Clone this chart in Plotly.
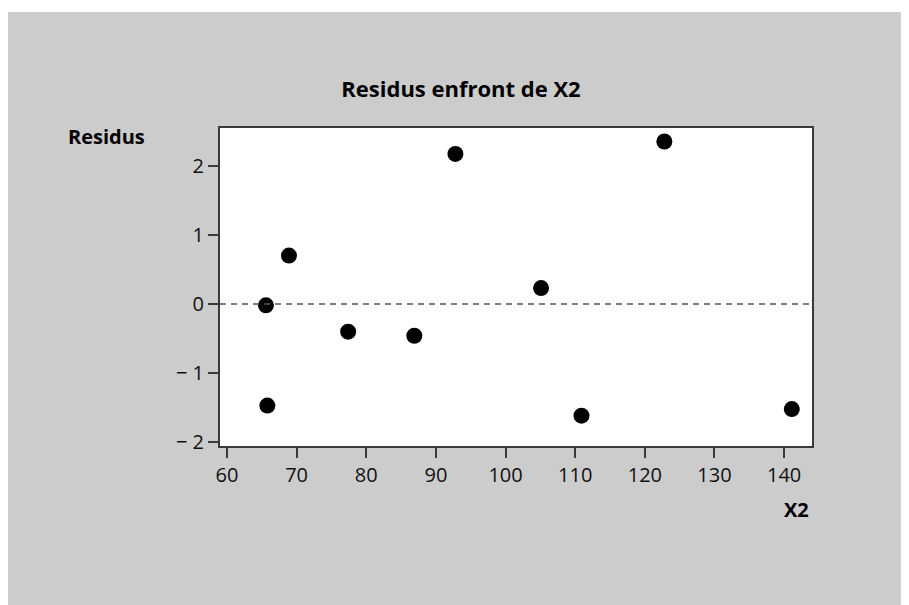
import plotly.graph_objects as go

x2 = [65.6, 65.8, 68.9, 77.4, 86.9, 92.8, 105.1, 110.9, 122.8, 141.1]
residus = [-0.02, -1.47, 0.70, -0.40, -0.46, 2.17, 0.23, -1.615, 2.35, -1.52]

x_ticks = [60, 70, 80, 90, 100, 110, 120, 130, 140]
y_ticks = [-2, -1, 0, 1, 2]
y_tick_text = ["\u2212 2", "\u2212 1", "0", "1", "2"]

FONT = "Open Sans"
AX = "#3a3a3a"
TXT = "#111111"
W, H = 901, 597
# page body has an 8px margin, so figure coords = screen coords - 8
L, R, T, B = 212, 97, 120, 159
pw = W - L - R
ph = H - T - B

fig = go.Figure()
fig.add_trace(go.Scatter(
    x=x2, y=residus, mode="markers",
    marker=dict(color="black", size=16, line=dict(width=0)),
    showlegend=False, hoverinfo="skip"))

fig.add_hline(y=0, line=dict(color="#555555", width=1.5, dash="6px,5px"))

# thin white strip at the very top
fig.add_shape(type="rect", xref="paper", yref="paper",
              x0=-L / pw - 0.05, x1=(W - L) / pw + 0.05,
              y0=(H - B - 4) / ph, y1=(H - B) / ph + 0.02,
              fillcolor="white", line=dict(width=0), layer="below")

fig.update_layout(
    width=W, height=H,
    margin=dict(l=L, r=R, t=T, b=B),
    paper_bgcolor="#cccccc", plot_bgcolor="white",
    font=dict(family=FONT, size=20, color=TXT),
    title=dict(text="<b>Residus enfront de X2</b>", x=(453 - L) / pw, xref="paper",
               xanchor="center", y=1 - 81 / H, yanchor="middle",
               font=dict(family=FONT, size=22, color="black")),
    xaxis=dict(range=[59, 144], tickvals=x_ticks, ticks="outside", ticklen=10,
               tickwidth=1.5, tickcolor=AX, showline=True, linecolor=AX, linewidth=2,
               mirror=True, showgrid=False, zeroline=False,
               tickfont=dict(family=FONT, size=20, color=TXT)),
    yaxis=dict(range=[-2.054, 2.545], tickvals=y_ticks, ticktext=y_tick_text,
               ticks="outside", ticklen=10, tickwidth=1.5, tickcolor=AX,
               showline=True, linecolor=AX, linewidth=2, mirror=True,
               showgrid=False, zeroline=False,
               tickfont=dict(family=FONT, size=20, color=TXT)),
    annotations=[
        dict(text="<b>Residus</b>", xref="paper", yref="paper",
             x=(58 - L) / pw, y=(H - B - 128) / ph, xanchor="left", yanchor="middle",
             showarrow=False, font=dict(family=FONT, size=20, color="black")),
        dict(text="<b>X2</b>", xref="paper", yref="paper",
             x=(803 - L) / pw, y=(H - B - 501) / ph, xanchor="right", yanchor="middle",
             showarrow=False, font=dict(family=FONT, size=20, color="black")),
    ],
)

fig.write_html("out.html")
